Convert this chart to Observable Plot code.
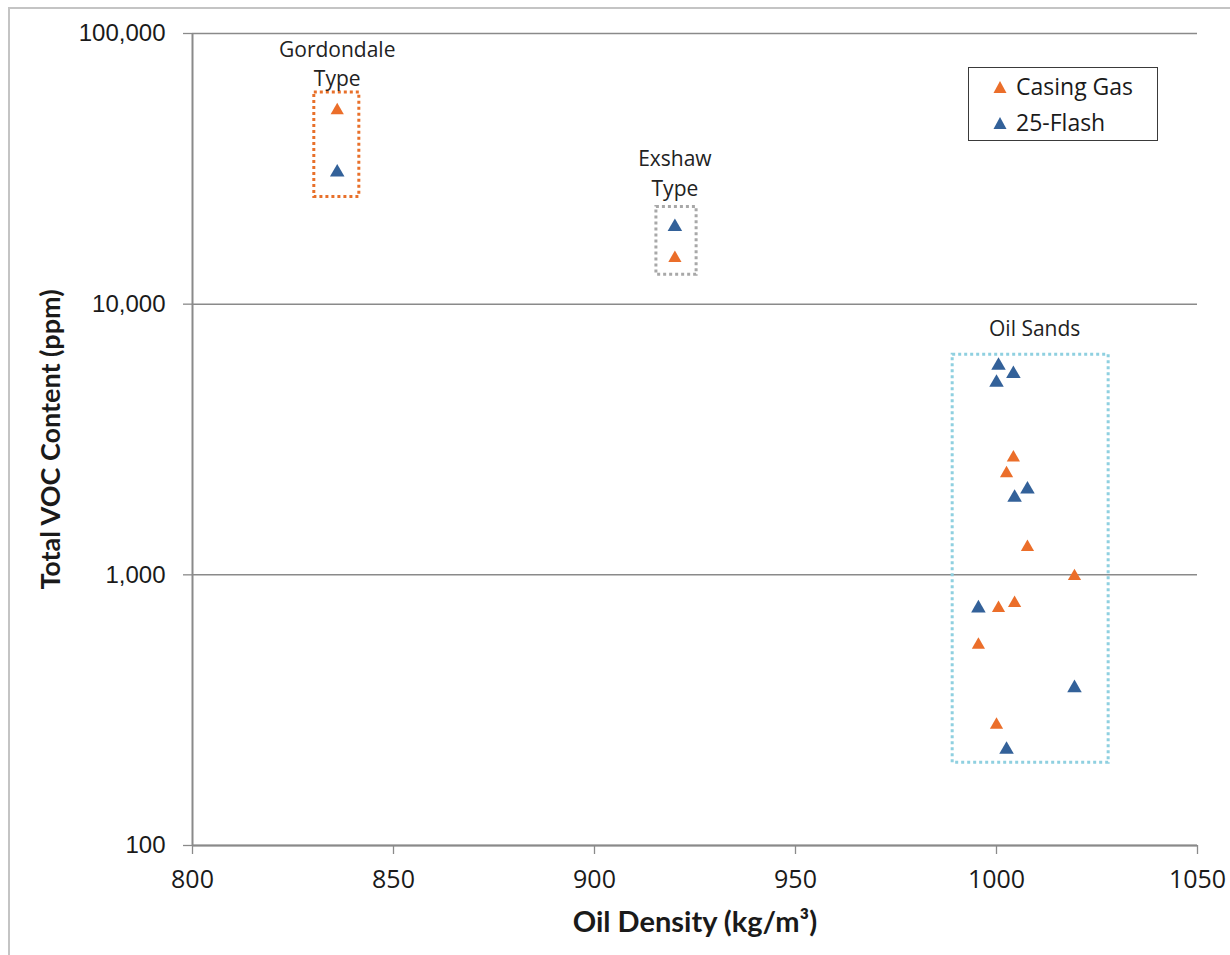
<!DOCTYPE html>
<html>
<head>
<meta charset="utf-8">
<script src="https://cdn.jsdelivr.net/npm/d3@7"></script>
<script src="https://cdn.jsdelivr.net/npm/@observablehq/plot@0.6"></script>
<style>
  html, body { margin: 0; padding: 0; background: #fff; overflow: hidden; }
  #wrap { position: relative; width: 1230px; height: 955px; overflow: hidden; }
  #border { position: absolute; left: 8px; top: 7px; right: -20px; bottom: -20px; border: 2px solid #c4c4c4; pointer-events: none; }
  #chart svg { display: block; }
  #legend { position: absolute; left: 968px; top: 67px; width: 190px; height: 74px; border: 1.6px solid #3a3a3a; background: #fff;
            font-family: "Open Sans", sans-serif; font-size: 23px; color: #1a1a1a; box-sizing: border-box; }
  .li { position: absolute; left: 24px; display: flex; align-items: center; gap: 9px; line-height: 1; }
</style>
</head>
<body>
<div id="wrap">
  <div id="chart"></div>
  <div id="border"></div>
  <div id="legend"></div>
</div>
<script>
// ---- data ----
const categories = ["Casing Gas", "25-Flash"];
const seriesColors = ["#EB6E2A", "#336199"];

const casingDensity = [836, 920, 1004.2, 1002.5, 1007.7, 1019.4, 1000.5, 1004.5, 995.5, 1000];
const casingVOC     = [52000, 14800, 2710, 2370, 1265, 988, 753, 786, 551, 279];

const flashDensity  = [836, 920, 1000.5, 1004.2, 1000, 1007.7, 1004.5, 995.5, 1019.4, 1002.5];
const flashVOC      = [30700, 19300, 5930, 5530, 5130, 2070, 1930, 753, 382, 226];

const xTicks = [800, 850, 900, 950, 1000, 1050];
const yTicks = [100, 1000, 10000, 100000];

// annotation groups
const groupLabels  = ["Gordondale\nType", "Exshaw\nType", "Oil Sands"];
const groupLabelX  = [836, 920, 1009.5];
const groupLabelY  = [78500, 30870, 8240];
const boxX1 = [830.3, 915.4, 989.1];
const boxX2 = [841.5, 925.4, 1027.9];
const boxY1 = [24900, 12830, 202];
const boxY2 = [60600, 22850, 6500];
const boxColors = ["#E8702A", "#A8A8A8", "#8FD0E0"];

const xTitle = "Oil Density (kg/m³)";
const yTitle = "Total VOC Content (ppm)";

// ---- tables ----
const casing = casingDensity.map((d, i) => ({series: categories[0], x: d, y: casingVOC[i]}));
const flash = flashDensity.map((d, i) => ({series: categories[1], x: d, y: flashVOC[i]}));
const boxes = boxX1.map((x1, i) => ({x1, x2: boxX2[i], y1: boxY1[i], y2: boxY2[i], color: boxColors[i]}));
const labels = groupLabels.map((t, i) => ({t, x: groupLabelX[i], y: groupLabelY[i]}));

const gridColor = "#8a8a8a";

const chart = Plot.plot({
  width: 1230,
  height: 955,
  marginLeft: 192,
  marginRight: 33,
  marginTop: 33,
  marginBottom: 110,
  style: {background: "transparent", color: "#1a1a1a"},
  x: {domain: [800, 1050]},
  y: {type: "log", domain: [100, 100000]},
  color: {domain: categories, range: seriesColors},
  marks: [
    Plot.ruleY(yTicks, {y: d => d, stroke: gridColor, strokeWidth: 1.5}),
    Plot.ruleX([800], {stroke: gridColor, strokeWidth: 2}),
    Plot.ruleY([100], {stroke: gridColor, strokeWidth: 2.2}),
    Plot.axisX({ticks: xTicks, tickSize: 9, tickPadding: 16, stroke: gridColor, strokeWidth: 1.3,
                fontFamily: "Open Sans", fontSize: 25, label: null, tickFormat: d => String(d)}),
    Plot.axisY({ticks: yTicks, tickSize: 9, tickPadding: 18, stroke: gridColor, strokeWidth: 1.3,
                fontFamily: "Liberation Sans", fontSize: 24, label: null, tickFormat: d3.format(",")}),
    Plot.text([xTitle], {frameAnchor: "bottom", lineAnchor: "middle", dy: 77, fontFamily: "Lato", fontWeight: "bold", fontSize: 29, fill: "#1a1a1a"}),
    Plot.text([yTitle], {frameAnchor: "left", textAnchor: "middle", lineAnchor: "middle", rotate: -90, dx: -141, fontFamily: "Lato", fontWeight: "bold", fontSize: 27, fill: "#1a1a1a"}),
    Plot.rect(boxes, {x1: "x1", x2: "x2", y1: "y1", y2: "y2", fill: "none", stroke: d => d.color, strokeWidth: 3, strokeDasharray: "3,3"}),
    Plot.text(labels, {x: "x", y: "y", text: "t", fontFamily: "Open Sans", fontSize: 21, lineHeight: 1.4, fill: "#222"}),
    Plot.dot(casing, {x: "x", y: "y", fill: seriesColors[0], symbol: "triangle", stroke: "none", r: 4.9}),
    Plot.dot(flash, {x: "x", y: "y", fill: seriesColors[1], symbol: "triangle", stroke: "none", r: 5.4})
  ]
});
document.getElementById("chart").appendChild(chart);

// legend
const legend = document.getElementById("legend");
categories.forEach((c, i) => {
  const row = document.createElement("div");
  row.className = "li";
  row.style.top = (i === 0 ? 7 : 43) + "px";
  row.innerHTML = `<svg width="14" height="14"><path d="M7,1 L13.5,13 L0.5,13 Z" fill="${seriesColors[i]}"/></svg><span>${c}</span>`;
  legend.appendChild(row);
});
</script>
</body>
</html>
